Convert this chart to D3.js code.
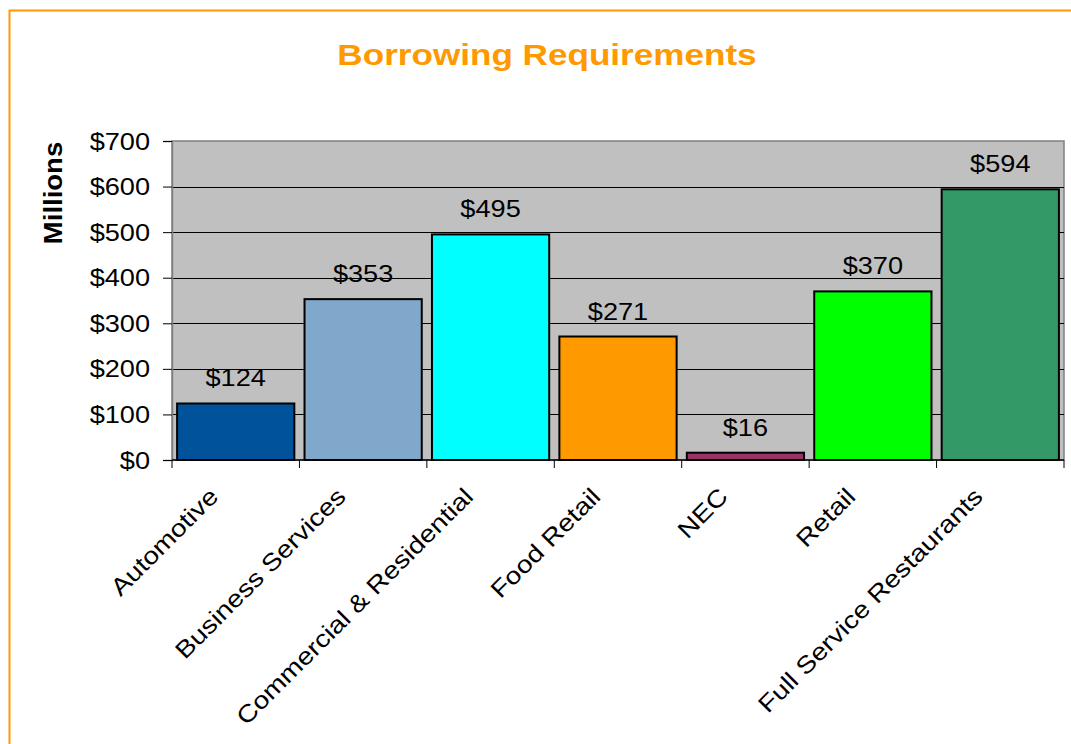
<!DOCTYPE html>
<html>
<head>
<meta charset="utf-8">
<script src="https://cdn.jsdelivr.net/npm/d3@7"></script>
<style>
  html, body { margin: 0; padding: 0; background: #fff; overflow: hidden; }
  svg { display: block; font-family: "Liberation Sans", Arial, sans-serif; }
</style>
</head>
<body>
<svg id="chart" width="1071" height="744"></svg>
<script>
const categories = ["Automotive", "Business Services", "Commercial & Residential", "Food Retail", "NEC", "Retail", "Full Service Restaurants"];
const values = [124, 353, 495, 271, 16, 370, 594];
const barColors = ["#00539A", "#7FA8CB", "#00FFFF", "#FF9900", "#993366", "#00FF00", "#339966"];
const yTickValues = [0, 100, 200, 300, 400, 500, 600, 700];
const titleText = "Borrowing Requirements";
const yAxisTitle = "Millions";

const W = 1071, H = 744;
const plot = { left: 172, right: 1064, top: 141, bottom: 460 };
const WIDEN = 1.18;

const svg = d3.select("#chart");

function widen(sel, f) {
  sel.each(function () {
    const len = this.getComputedTextLength();
    d3.select(this).attr("textLength", len * (f || WIDEN)).attr("lengthAdjust", "spacingAndGlyphs");
  });
}

// outer orange frame
svg.append("rect")
  .attr("x", 9.5).attr("y", 10.5)
  .attr("width", 1200).attr("height", 900)
  .attr("fill", "none").attr("stroke", "#FF9900").attr("stroke-width", 2);

const x = d3.scaleBand().domain(categories)
  .range([plot.left, plot.right])
  .paddingInner(0.08).paddingOuter(0.04);
const y = d3.scaleLinear().domain([0, 700]).range([plot.bottom, plot.top]);

// plot background
svg.append("rect")
  .attr("x", plot.left).attr("y", plot.top)
  .attr("width", plot.right - plot.left).attr("height", plot.bottom - plot.top)
  .attr("fill", "#C0C0C0").attr("stroke", "#808080").attr("stroke-width", 1.5);

// gridlines
svg.append("g").selectAll("line")
  .data(yTickValues.filter(v => v > 0 && v < 700))
  .join("line")
  .attr("x1", plot.left).attr("x2", plot.right)
  .attr("y1", d => Math.round(y(d)) + 0.5).attr("y2", d => Math.round(y(d)) + 0.5)
  .attr("stroke", "#000").attr("stroke-width", 1);

// bars
svg.append("g").selectAll("rect")
  .data(categories)
  .join("rect")
  .attr("x", d => x(d))
  .attr("y", (d, i) => y(values[i]))
  .attr("width", x.bandwidth())
  .attr("height", (d, i) => y(0) - y(values[i]))
  .attr("fill", (d, i) => barColors[i])
  .attr("stroke", "#000").attr("stroke-width", 2);

// y axis
const yAxis = d3.axisLeft(y).tickValues(yTickValues)
  .tickFormat(d => "$" + d).tickSize(9).tickPadding(13);
const yg = svg.append("g").attr("transform", `translate(${plot.left},0)`).call(yAxis);
yg.select(".domain").attr("stroke", "#808080").attr("stroke-width", 1.5);
yg.selectAll(".tick line").attr("stroke", "#000");
yg.selectAll(".tick text")
  .attr("font-size", 23).attr("fill", "#000")
  .attr("font-family", "Liberation Sans, Arial, sans-serif")
  .attr("dy", "0.35em");
widen(yg.selectAll(".tick text"));

// x axis line
svg.append("line")
  .attr("x1", plot.left).attr("x2", plot.right)
  .attr("y1", plot.bottom).attr("y2", plot.bottom)
  .attr("stroke", "#000").attr("stroke-width", 1.5);

// x tick marks at category boundaries
const step = x.step();
const boundaries = categories.map(c => x(c) - x.paddingOuter() * step).concat([plot.right]);
svg.append("g").selectAll("line")
  .data(boundaries)
  .join("line")
  .attr("x1", d => d).attr("x2", d => d)
  .attr("y1", plot.bottom).attr("y2", plot.bottom + 8)
  .attr("stroke", "#000").attr("stroke-width", 1);

// category labels
const catLabels = svg.append("g").selectAll("text")
  .data(categories)
  .join("text")
  .attr("transform", d => `translate(${x(d) + x.bandwidth() / 2 - 16},${plot.bottom + 38}) rotate(-45)`)
  .attr("text-anchor", "end")
  .attr("font-size", 24).attr("fill", "#000")
  .text(d => d);
widen(catLabels, 1.17);

// value labels
const valLabels = svg.append("g").selectAll("text")
  .data(categories)
  .join("text")
  .attr("x", d => x(d) + x.bandwidth() / 2)
  .attr("y", (d, i) => y(values[i]) - 17)
  .attr("text-anchor", "middle")
  .attr("font-size", 23).attr("fill", "#000")
  .text((d, i) => "$" + values[i]);
widen(valLabels);

// title
const t = svg.append("text")
  .attr("x", 547).attr("y", 65)
  .attr("text-anchor", "middle")
  .attr("font-size", 30).attr("font-weight", "bold")
  .attr("fill", "#FF9900")
  .text(titleText);
widen(t, 1.17);

// y axis title
const yt = svg.append("text")
  .attr("transform", `translate(62,193) rotate(-90)`)
  .attr("text-anchor", "middle")
  .attr("font-size", 25).attr("font-weight", "bold")
  .attr("fill", "#000")
  .text(yAxisTitle);
widen(yt, 1.1);
</script>
</body>
</html>
